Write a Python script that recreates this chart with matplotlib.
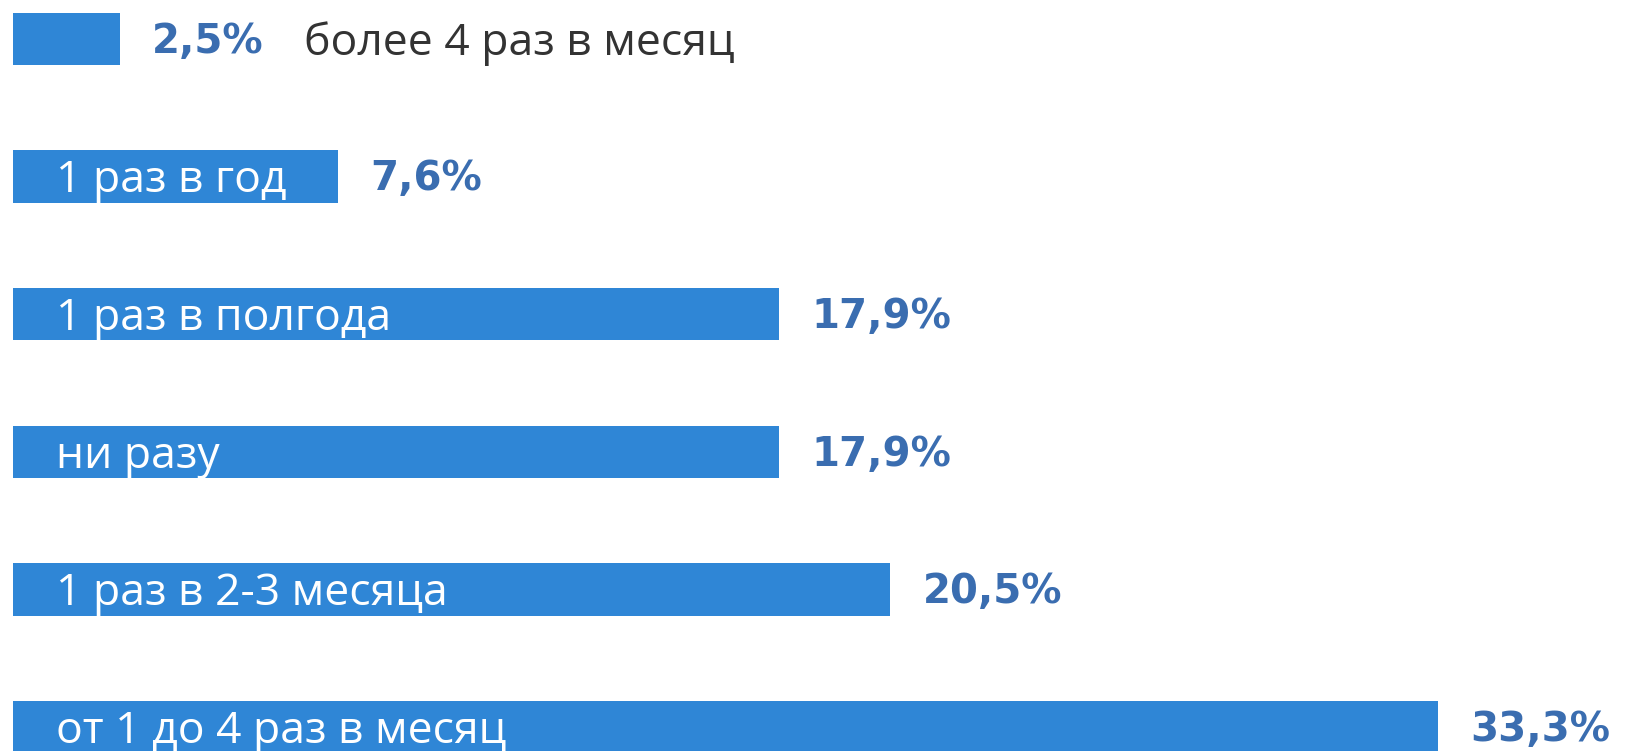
import matplotlib.pyplot as plt

# survey: how often respondents do it (share, %)
categories = [
    "более 4 раз в месяц",
    "1 раз в год",
    "1 раз в полгода",
    "ни разу",
    "1 раз в 2-3 месяца",
    "от 1 до 4 раз в месяц",
]
values = [2.5, 7.6, 17.9, 17.9, 20.5, 33.3]
value_labels = ["2,5%", "7,6%", "17,9%", "17,9%", "20,5%", "33,3%"]

BAR_COLOR = "#2f86d6"
VALUE_COLOR = "#3a6db0"
TEXT_GRAY = "#333333"

plt.rcParams["font.family"] = ["Open Sans", "DejaVu Sans"]

fig = plt.figure(figsize=(16.32, 7.51), dpi=100)
ax = fig.add_axes([0, 0, 1, 1])

pos = list(range(len(categories)))
ax.barh(pos, values, height=0.38, color=BAR_COLOR, left=0)

# baselines sit a bit below the bar centre so the capitals look centred
for i, (cat, val, lab) in enumerate(zip(categories, values, value_labels)):
    ax.text(val + 0.76, i + 0.1, lab, va="baseline", ha="left", fontsize=29,
            fontweight="bold", color=VALUE_COLOR, family="DejaVu Sans")
    if val < 5:
        # bar too short for its label, put the text after the value
        ax.text(val + 4.3, i + 0.115, cat, va="baseline", ha="left",
                fontsize=32, color=TEXT_GRAY)
    else:
        ax.text(1.0, i + 0.115, cat, va="baseline", ha="left", fontsize=32,
                color="white")

ax.set_xlim(-0.3, 37.83)
ax.set_ylim(5.174, -0.283)
ax.axis("off")

fig.savefig("out.png", dpi=100, facecolor="white")
